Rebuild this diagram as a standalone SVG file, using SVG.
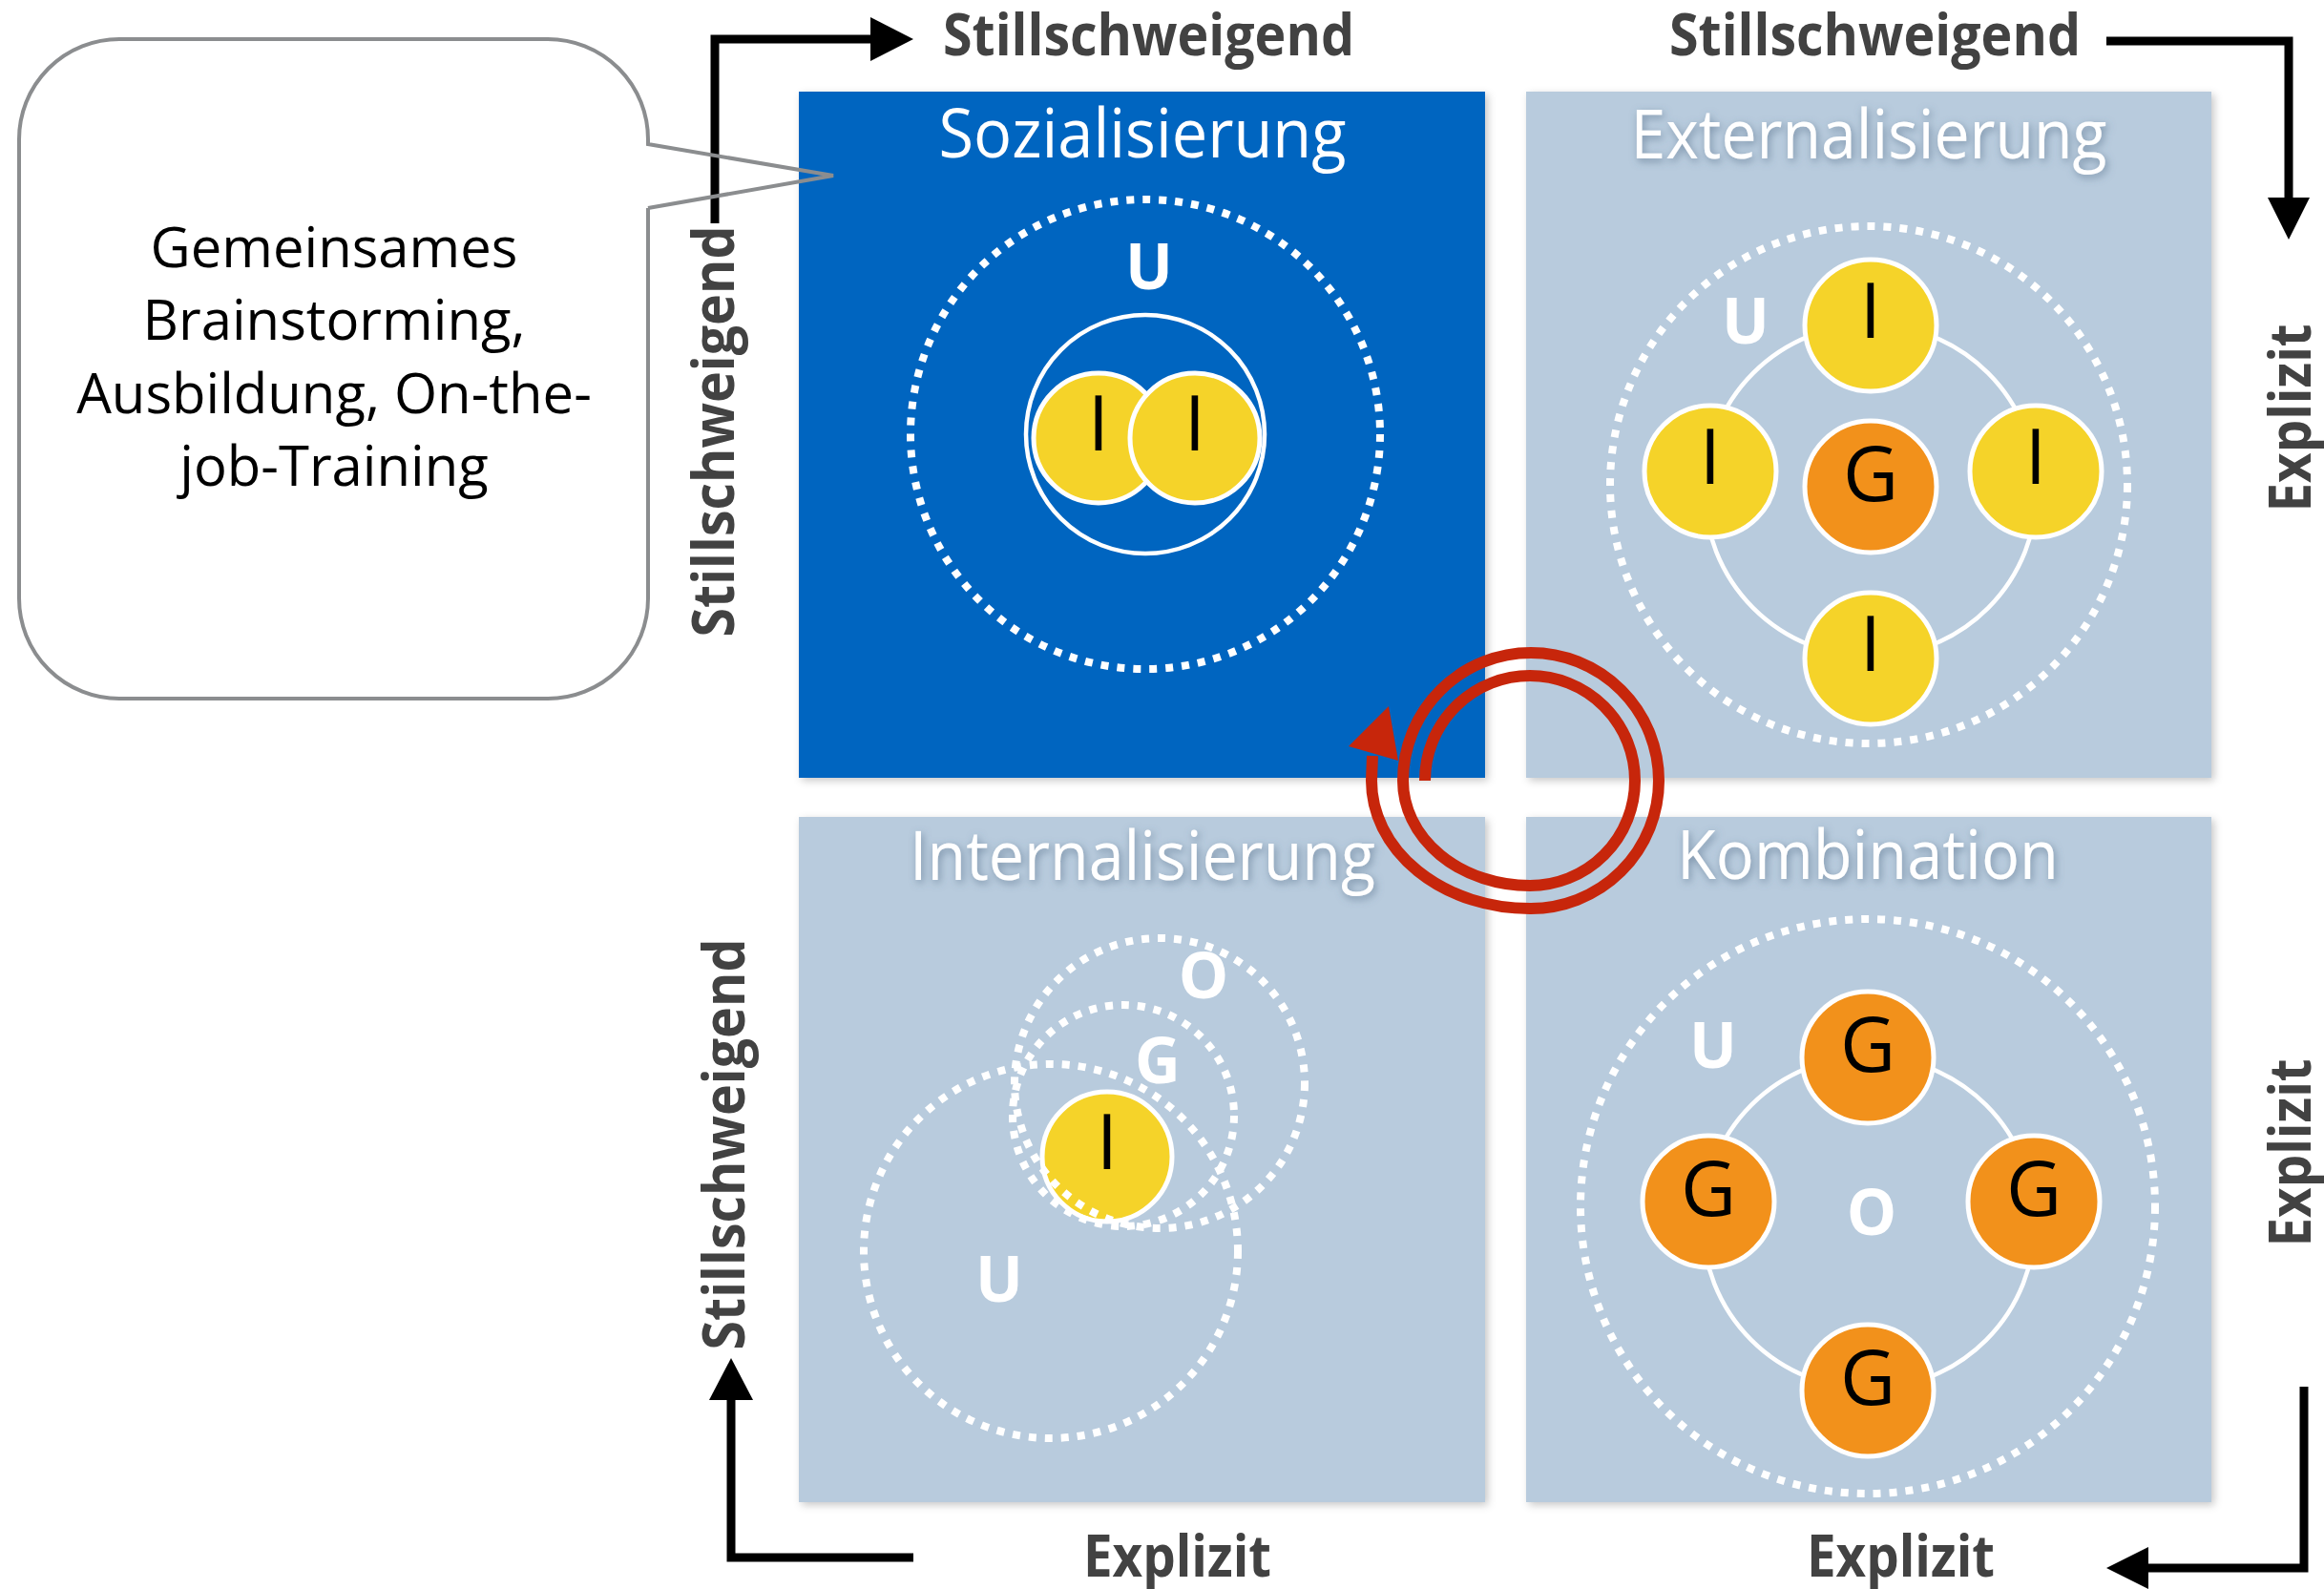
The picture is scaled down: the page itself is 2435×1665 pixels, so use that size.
<svg xmlns="http://www.w3.org/2000/svg" width="2435" height="1665" viewBox="0 0 2435 1665">
<defs>
<style>
text { font-family: "Open Sans","Noto Sans","DejaVu Sans",sans-serif; }
.axis { font-size:60px; font-weight:700; fill:#424242; text-anchor:middle; }
.title { font-size:72px; fill:#ffffff; text-anchor:middle; }
.lt { filter:url(#tshadow); }
.dot { fill:none; stroke:#ffffff; stroke-width:8; stroke-dasharray:8 9; }
.ring { fill:none; stroke:#ffffff; stroke-width:4.5; }
.yel { fill:#f5d329; stroke:#ffffff; stroke-width:5; }
.ora { fill:#f2911b; stroke:#ffffff; stroke-width:5; }
.nl { font-size:80px; fill:#000000; text-anchor:middle; }
.wl { font-size:66px; font-weight:700; fill:#ffffff; text-anchor:middle; }
.conn { fill:none; stroke:#000000; stroke-width:9; }
.head { fill:#000000; }
.co { font-size:58px; fill:#000000; text-anchor:middle; }
.box { filter:url(#bshadow); }
</style>
<filter id="bshadow" x="-5%" y="-5%" width="110%" height="110%"><feDropShadow dx="3" dy="3" stdDeviation="4" flood-color="#000000" flood-opacity="0.22"/></filter>
<filter id="tshadow" x="-10%" y="-40%" width="120%" height="180%"><feDropShadow dx="2" dy="3" stdDeviation="4" flood-color="#4d6680" flood-opacity="0.6"/></filter>
</defs>
<rect width="2435" height="1665" fill="#ffffff"/>

<g id="connectors">
  <path class="conn" d="M749,234 V41 H915"/>
  <polygon class="head" points="912,18 957,41 912,64"/>
  <path class="conn" d="M2207,43 H2398 V210"/>
  <polygon class="head" points="2376,207 2398,251 2420,207"/>
  <path class="conn" d="M2414,1453 V1643 H2250"/>
  <polygon class="head" points="2251,1621 2207,1643 2251,1665"/>
  <path class="conn" d="M957,1632 H766 V1465"/>
  <polygon class="head" points="743,1467 766,1423 789,1467"/>
</g>

<g id="axis-labels">
  <text class="axis" x="1203.5" y="58" textLength="431" lengthAdjust="spacingAndGlyphs">Stillschweigend</text>
  <text class="axis" x="1964.5" y="58" textLength="431" lengthAdjust="spacingAndGlyphs">Stillschweigend</text>
  <text class="axis" transform="translate(769,452) rotate(-90)" x="0" y="0" textLength="431" lengthAdjust="spacingAndGlyphs">Stillschweigend</text>
  <text class="axis" transform="translate(780,1199) rotate(-90)" x="0" y="0" textLength="431" lengthAdjust="spacingAndGlyphs">Stillschweigend</text>
  <text class="axis" transform="translate(2421,438) rotate(-90)" x="0" y="0" textLength="197" lengthAdjust="spacingAndGlyphs">Explizit</text>
  <text class="axis" transform="translate(2421,1208) rotate(-90)" x="0" y="0" textLength="197" lengthAdjust="spacingAndGlyphs">Explizit</text>
  <text class="axis" x="1233.5" y="1652" textLength="197" lengthAdjust="spacingAndGlyphs">Explizit</text>
  <text class="axis" x="1991.5" y="1652" textLength="197" lengthAdjust="spacingAndGlyphs">Explizit</text>
</g>

<g id="sozialisierung">
  <rect class="box" x="837" y="96" width="719" height="719" fill="#0565c0"/>
  <text class="title" x="1197" y="165" textLength="427" lengthAdjust="spacingAndGlyphs">Sozialisierung</text>
  <circle class="dot" cx="1200" cy="455" r="246"/>
  <text class="wl" x="1204" y="303">U</text>
  <circle class="ring" cx="1200" cy="455" r="125"/>
  <circle class="yel" cx="1151" cy="459" r="68"/>
  <circle class="yel" cx="1252" cy="459" r="68"/>
  <text class="nl" x="1151" y="472">I</text>
  <text class="nl" x="1252" y="472">I</text>
</g>

<g id="externalisierung">
  <rect class="box" x="1599" y="96" width="718" height="719" fill="#b8cbdd"/>
  <text class="title lt" x="1958" y="166" textLength="499" lengthAdjust="spacingAndGlyphs">Externalisierung</text>
  <circle class="dot" cx="1958" cy="508" r="271"/>
  <circle class="ring" cx="1960" cy="514" r="174"/>
  <text class="wl" x="1829" y="360">U</text>
  <circle class="yel" cx="1960" cy="341" r="69"/>
  <circle class="yel" cx="1792" cy="494" r="69"/>
  <circle class="yel" cx="2133" cy="494" r="69"/>
  <circle class="yel" cx="1960" cy="690" r="69"/>
  <circle class="ora" cx="1960" cy="510" r="69"/>
  <text class="nl" x="1960" y="354">I</text>
  <text class="nl" x="1792" y="507">I</text>
  <text class="nl" x="2133" y="507">I</text>
  <text class="nl" x="1960" y="703">I</text>
  <text class="nl" x="1960" y="525">G</text>
</g>

<g id="internalisierung">
  <rect class="box" x="837" y="856" width="719" height="718" fill="#b8cbdd"/>
  <text class="title lt" x="1197" y="922" textLength="488" lengthAdjust="spacingAndGlyphs">Internalisierung</text>
  <circle class="yel" cx="1160" cy="1212" r="68"/>
  <text class="nl" x="1160" y="1225">I</text>
  <circle class="dot" cx="1101" cy="1311" r="196"/>
  <circle class="dot" cx="1215" cy="1135" r="152"/>
  <circle class="dot" cx="1177" cy="1169" r="116"/>
  <text class="wl" x="1261" y="1046">O</text>
  <text class="wl" x="1213" y="1135">G</text>
  <text class="wl" x="1047" y="1364">U</text>
</g>

<g id="kombination">
  <rect class="box" x="1599" y="856" width="718" height="718" fill="#b8cbdd"/>
  <text class="title lt" x="1957" y="921" textLength="400" lengthAdjust="spacingAndGlyphs">Kombination</text>
  <circle class="dot" cx="1957" cy="1264" r="301"/>
  <circle class="ring" cx="1958" cy="1281" r="174"/>
  <text class="wl" x="1795" y="1119">U</text>
  <text class="wl" x="1961" y="1294">O</text>
  <circle class="ora" cx="1957" cy="1108" r="69"/>
  <circle class="ora" cx="1790" cy="1259" r="69"/>
  <circle class="ora" cx="2131" cy="1259" r="69"/>
  <circle class="ora" cx="1957" cy="1457" r="69"/>
  <text class="nl" x="1957" y="1123">G</text>
  <text class="nl" x="1790" y="1274">G</text>
  <text class="nl" x="2131" y="1274">G</text>
  <text class="nl" x="1957" y="1472">G</text>
</g>

<g id="cycle">
  <path d="M1493,818 A110,110 0 0 1 1713,818 A110,110 0 0 1 1603,928 A133,110 0 0 1 1470,818 A134,134 0 0 1 1738,818 A134,134 0 0 1 1603,952 A166,134 0 0 1 1437,818 L1438,792" fill="none" stroke="#c7260b" stroke-width="12"/>
  <polygon points="1413,782 1465,797 1455,740" fill="#c7260b"/>
</g>

<g id="callout">
  <rect x="20" y="41" width="659" height="691" rx="105" ry="105" fill="#ffffff"/>
  <path d="M679,218 V627 A105,105 0 0 1 574,732 H125 A105,105 0 0 1 20,627 V146 A105,105 0 0 1 125,41 H574 A105,105 0 0 1 679,146 V151 L873,184 L679,218" fill="none" stroke="#8b8d8f" stroke-width="4"/>
  <text class="co" x="350" y="280">Gemeinsames</text>
  <text class="co" x="350" y="356">Brainstorming,</text>
  <text class="co" x="350" y="433">Ausbildung, On-the-</text>
  <text class="co" x="350" y="509">job-Training</text>
</g>
</svg>
